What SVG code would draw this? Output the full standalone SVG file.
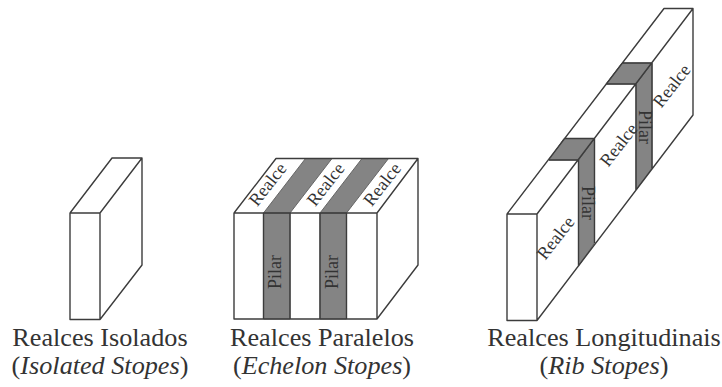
<svg xmlns="http://www.w3.org/2000/svg" width="722" height="387" viewBox="0 0 722 387">
<style>
.l{fill:none;stroke:#3c3c3c;stroke-width:1.4;stroke-linejoin:round}
.p{fill:#848484;stroke:#666;stroke-width:1}
text{font-family:"Liberation Serif","Times New Roman",serif;fill:#333}
.c{font-size:26.2px;text-anchor:middle}
.s{font-size:18px;text-anchor:middle;dominant-baseline:middle}
</style>
<rect width="722" height="387" fill="#fff"/>
<g id="isolated">
<path class="l" d="M70 213H100V319.5H70ZM70 213L112 158H142L100 213M142 158V265L100 319.5"/>
<text class="c" x="100" y="346">Realces Isolados</text>
<text class="c" x="100" y="374">(<tspan font-style="italic">Isolated Stopes</tspan>)</text>
</g>
<g id="echelon">
<path class="p" d="M263.5 213H290V319H263.5ZM320 213H346.5V319H320ZM263.5 213L305.5 158.500H332L290 213ZM320 213L362 158.500H388.500L346.5 213Z"/>
<path class="l" d="M234 213H377V319H234ZM234 213L276 158.500H418L377 213M418 158.500V265L377 319M263.500 213V319M290 213V319M320 213V319M346.500 213V319"/>
<text class="s" transform="translate(269 185.500) rotate(-52)">Realce</text>
<text class="s" transform="translate(327 185.500) rotate(-52)">Realce</text>
<text class="s" transform="translate(383.500 185.500) rotate(-52)">Realce</text>
<text class="s" transform="translate(277 272) rotate(-90)">Pilar</text>
<text class="s" transform="translate(334 272) rotate(-90)">Pilar</text>
<text class="c" x="322" y="346">Realces Paralelos</text>
<text class="c" x="322" y="374">(<tspan font-style="italic">Echelon Stopes</tspan>)</text>
</g>
<g id="rib">
<path class="p" d="M549 160H578.500L594.500 138.500H564ZM578.500 160L594.500 138.500V243L578.500 266ZM606 84H636L652 63H622ZM636 84L652 63V168L636 190Z"/>
<path class="l" d="M507 214H537V320.500H507ZM507 214L664 8.500H693L537 214M693 8.500V115L537 320.500M578.500 160V266.500M594.500 138.500V243M636 84V190M652 63V168M549 160H578.500M564 138.500H594.500M606 84H636M622 63H652"/>
<text class="s" transform="translate(557 239) rotate(-52)">Realce</text>
<text class="s" transform="translate(620 146) rotate(-52)">Realce</text>
<text class="s" transform="translate(673 87) rotate(-52)">Realce</text>
<text class="s" transform="translate(586 203) rotate(90)">Pilar</text>
<text class="s" transform="translate(643 127) rotate(90)">Pilar</text>
<text class="c" x="604" y="346">Realces Longitudinais</text>
<text class="c" x="604" y="374">(<tspan font-style="italic">Rib Stopes</tspan>)</text>
</g>
</svg>
